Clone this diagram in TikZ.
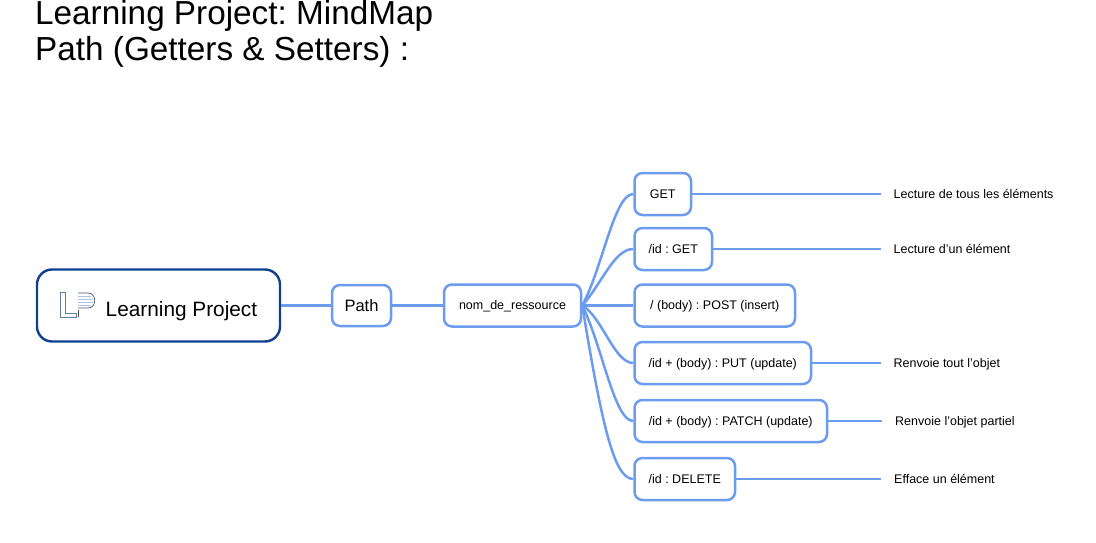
\documentclass[tikz,border=0pt]{standalone}
\usepackage{fontspec}
\usetikzlibrary{calc}
\setmainfont{Liberation Sans}
\frenchspacing
\definecolor{linkblue}{HTML}{6D9BEE}
\definecolor{rootblue}{HTML}{0F3F8F}
\definecolor{logoblue}{HTML}{5E7FA8}
\definecolor{logolight}{HTML}{A9C3EA}
\tikzset{
  x=1pt,y=-1pt,
  box/.style={draw=linkblue,line width=2.5pt,rounded corners=8pt,fill=white,font=\fontsize{12.5}{14}\selectfont,inner sep=0pt,minimum height=42pt,text height=8.5pt,text depth=0pt},
  rootbox/.style={draw=rootblue,line width=2.4pt,rounded corners=15pt,fill=white,inner sep=0pt,minimum width=243pt,minimum height=72pt},
  leaf/.style={anchor=west,inner sep=0pt,inner xsep=13pt,font=\fontsize{12.5}{14}\selectfont,text height=8.5pt,text depth=0pt},
  link/.style={draw=linkblue,line width=2.5pt},
  titletext/.style={anchor=north west,inner sep=0pt,align=left,font=\fontsize{33.3}{36.6}\selectfont}
}
\begin{document}
\begin{tikzpicture}
\useasboundingbox (0,0) rectangle (1096,543);
\node[titletext] (title) at (35,0) {Learning Project: MindMap\\Path (Getters \& Setters) :};
\node[rootbox] (root) at (158.5,305.5) {};
\node[anchor=west,inner sep=0pt,font=\fontsize{20.8}{24}\selectfont] (rootlabel) at (105.5,311.5) {Learning Project};
\node[box,minimum width=59pt,minimum height=41pt,font=\fontsize{16.5}{18}\selectfont,text height=11.5pt] (path) at (361.5,305.5) {Path};
\node[box,minimum width=137pt] (res) at (512.5,305.5) {nom\_de\_ressource};
\node[box,minimum width=56.5pt] (get) at (662.75,194) {GET};
\node[box,minimum width=77.5pt] (idget) at (673.25,249) {/id : GET};
\node[box,minimum width=160.5pt] (post) at (714.75,305.5) {/ (body) : POST (insert)};
\node[box,minimum width=176.5pt] (put) at (722.75,363) {/id + (body) : PUT (update)};
\node[box,minimum width=192.5pt] (patch) at (730.75,421) {/id + (body) : PATCH (update)};
\node[box,minimum width=100.5pt] (del) at (684.75,479) {/id : DELETE};
\node[leaf] (l1) at (880.5,194) {Lecture de tous les éléments};
\node[leaf] (l2) at (880.5,249) {Lecture d’un élément};
\node[leaf] (l3) at (880.5,363) {Renvoie tout l’objet};
\node[leaf] (l4) at (882,421) {Renvoie l’objet partiel};
\node[leaf] (l5) at (881,479) {Efface un élément};
\draw[link] (root.east) -- (path.west);
\draw[link] (path.east) -- (res.west);
\coordinate (hub) at (res.east);
\foreach \t/\a in {get/0.33,idget/0.4,post/0,put/0.2,patch/0.35,del/0.7}{
  \draw[link] (hub) .. controls ($(hub)!\a!(hub|-\t.west)+(20,0)$) and ($(\t.west)+(-19,0)$) .. (\t.west);
}
\draw[link] (get.east) -- (l1.west);
\draw[link] (idget.east) -- (l2.west);
\draw[link] (put.east) -- (l3.west);
\draw[link] (patch.east) -- (l4.west);
\draw[link] (del.east) -- (l5.west);
% logo
\draw[logoblue,line width=0.7pt] (60,292.5) -- (65,292.5) -- (65,313) -- (76,313) -- (76,317) -- (60,317) -- cycle;
\draw[black!70,line width=0.7pt] (78,310) -- (78,317);
\draw[logoblue!70!black,line width=0.7pt] (78,293) -- (88,293) .. controls (97,293) and (97,308) .. (88,308) -- (78,308);
\draw[logolight,line width=0.8pt] (78,296) -- (91,296) (78,299) -- (93,299) (78,302) -- (93,302) (78,305) -- (91,305);
\end{tikzpicture}
\end{document}
